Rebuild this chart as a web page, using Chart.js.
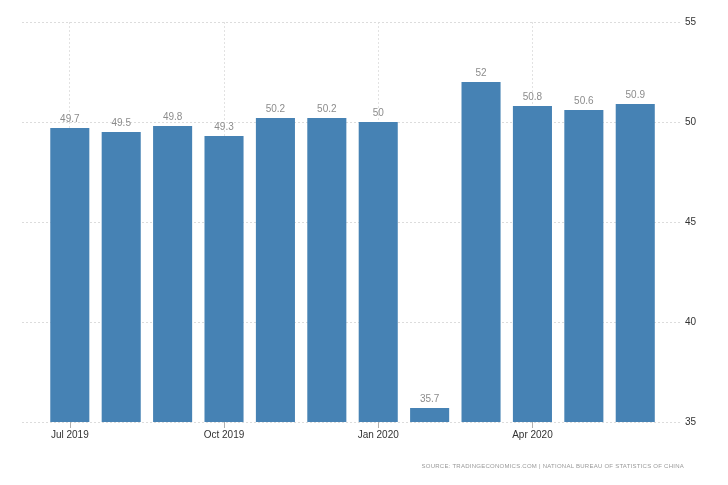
<!DOCTYPE html>
<html>
<head>
<meta charset="utf-8">
<script src="https://cdn.jsdelivr.net/npm/chart.js@4"></script>
<style>
  html, body { margin: 0; padding: 0; background: #fff; }
  #wrap { position: relative; width: 728px; height: 485px; }
  #c { display: block; }
  #src { position: absolute; right: 44px; top: 463px; font: 6px "Liberation Sans", Arial, sans-serif; color: #999; letter-spacing: 0.25px; white-space: nowrap; }
</style>
</head>
<body>
<div id="wrap">
  <canvas id="c" width="728" height="485"></canvas>
  <div id="src">SOURCE: TRADINGECONOMICS.COM | NATIONAL BUREAU OF STATISTICS OF CHINA</div>
</div>
<script>
// Months from Jul 2019 to Jun 2020
const categories = ["Jul 2019","Aug 2019","Sep 2019","Oct 2019","Nov 2019","Dec 2019","Jan 2020","Feb 2020","Mar 2020","Apr 2020","May 2020","Jun 2020"];
const pmiValues = [49.7, 49.5, 49.8, 49.3, 50.2, 50.2, 50, 35.7, 52, 50.8, 50.6, 50.9];
const xTickIndexes = [0, 3, 6, 9];
const xTickLabels = ["Jul 2019", "Oct 2019", "Jan 2020", "Apr 2020"];
const yTicks = [35, 40, 45, 50, 55];

const points = pmiValues.map((v, i) => ({ x: i, y: v }));

const valueLabels = {
  id: 'valueLabels',
  afterDatasetsDraw(chart) {
    const ctx = chart.ctx;
    const meta = chart.getDatasetMeta(0);
    ctx.save();
    ctx.font = '10px "Liberation Sans", Arial, sans-serif';
    ctx.fillStyle = '#8c8c8c';
    ctx.textAlign = 'center';
    ctx.textBaseline = 'bottom';
    meta.data.forEach((bar, i) => {
      ctx.fillText(String(pmiValues[i]), bar.x, bar.y - 4);
    });
    ctx.restore();
  }
};

const xTickMarks = {
  id: 'xTickMarks',
  afterDraw(chart) {
    const ctx = chart.ctx;
    const xs = chart.scales.x;
    const bottom = chart.chartArea.bottom;
    ctx.save();
    ctx.strokeStyle = '#b0b0b0';
    ctx.lineWidth = 1;
    ctx.beginPath();
    xTickIndexes.forEach(v => {
      const px = Math.round(xs.getPixelForValue(v)) + 0.5;
      ctx.moveTo(px, bottom);
      ctx.lineTo(px, bottom + 6);
    });
    ctx.stroke();
    ctx.restore();
  }
};

new Chart(document.getElementById('c'), {
  type: 'bar',
  data: {
    labels: categories,
    datasets: [{
      data: points,
      backgroundColor: '#4682b4',
      borderWidth: 0,
      barPercentage: 0.76,
      categoryPercentage: 1.0
    }]
  },
  plugins: [valueLabels, xTickMarks],
  options: {
    responsive: false,
    animation: false,
    layout: { padding: { left: 22, top: 22, right: 0, bottom: 0 } },
    plugins: { legend: { display: false }, tooltip: { enabled: false } },
    scales: {
      x: {
        type: 'linear',
        offset: false,
        min: -0.93,
        max: 11.89,
        afterBuildTicks(axis) { axis.ticks = xTickIndexes.map(v => ({ value: v })); },
        afterFit(axis) { axis.height = 63; },
        ticks: {
          autoSkip: false,
          maxRotation: 0,
          padding: 7,
          color: '#333',
          font: { family: '"Liberation Sans", Arial, sans-serif', size: 10 },
          callback: (v) => { const k = xTickIndexes.indexOf(v); return k >= 0 ? xTickLabels[k] : ''; }
        },
        grid: {
          offset: false,
          color: '#e2e2e2',
          drawTicks: false
        },
        border: { display: false, dash: [2, 2] }
      },
      y: {
        position: 'right',
        min: 35,
        max: 55,
        afterBuildTicks(axis) { axis.ticks = yTicks.map(v => ({ value: v })); },
        afterFit(axis) { axis.width = 47; },
        ticks: {
          padding: 4,
          color: '#333',
          font: { family: '"Liberation Sans", Arial, sans-serif', size: 10 }
        },
        grid: { color: '#dcdcdc', drawTicks: false },
        border: { display: false, dash: [2, 2] }
      }
    }
  }
});
</script>
</body>
</html>
